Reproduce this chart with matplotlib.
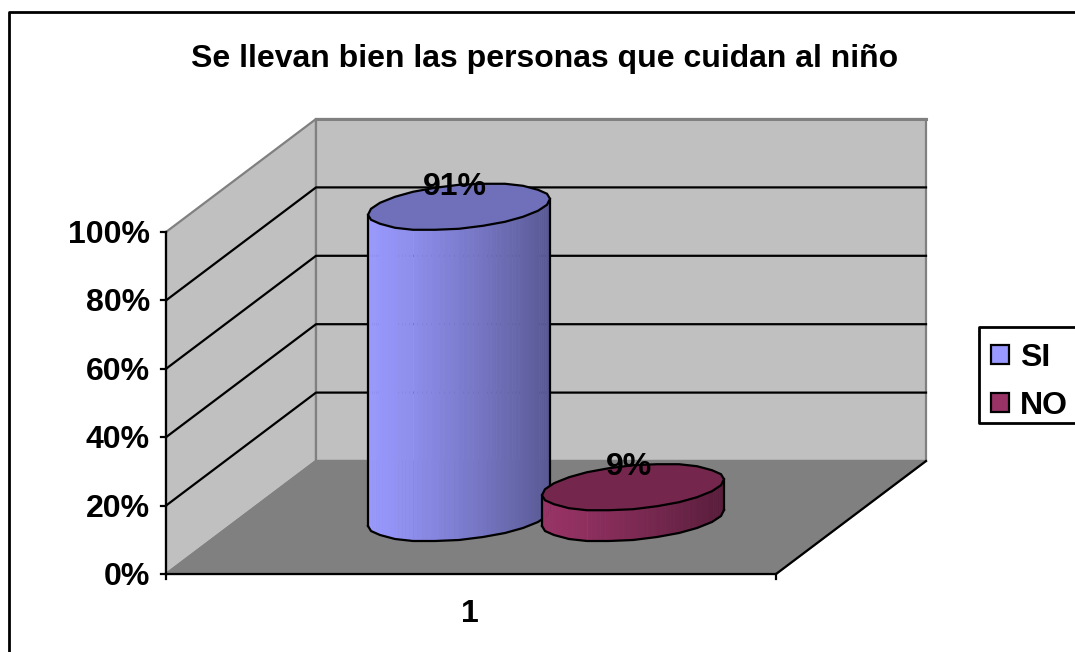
import numpy as np
import matplotlib
matplotlib.use("Agg")
import matplotlib.pyplot as plt
from matplotlib.patches import Polygon, Rectangle

plt.rcParams['font.family'] = ['Liberation Sans', 'DejaVu Sans']
plt.rcParams['font.weight'] = 'bold'

title = "Se llevan bien las personas que cuidan al niño"
series = ["SI", "NO"]
values = [91, 9]
value_labels = ["91%", "9%"]
category = "1"
y_ticks = [0, 20, 40, 60, 80, 100]

# pixel geometry of the 3d box
x0, x1 = 166, 776
y0, y_top = 574, 232
dx, dy = 150, -113
py = (y0 - y_top) / 100.0
FS = 23
LW = 1.6


def front(x_frac, val):
    return x0 + x_frac * (x1 - x0), y0 - val * py


def back(x_frac, val):
    x, y = front(x_frac, val)
    return x + dx, y + dy


def shade(col, f):
    return tuple(c * f for c in matplotlib.colors.to_rgb(col))


def cylinder(ax, cx, cy, val, side_col, top_col, z):
    a, c, b = 86, 30, 23
    t0 = np.arctan2(c, a)
    h = val * py
    # faceted like the original
    t = np.linspace(0, 2 * np.pi, 25)[:-1] + t0
    ex = np.round(cx + a * np.cos(t) + c * np.sin(t))
    ey = np.round(cy - b * np.sin(t))
    front_idx = list(range(12, 24)) + [0]
    n_strip = 5
    for i, j in zip(front_idx[:-1], front_idx[1:]):
        for k in range(n_strip):
            f0, f1 = k / n_strip, (k + 1) / n_strip
            xa = ex[i] + (ex[j] - ex[i]) * f0
            xb = ex[i] + (ex[j] - ex[i]) * f1
            ya = ey[i] + (ey[j] - ey[i]) * f0
            yb = ey[i] + (ey[j] - ey[i]) * f1
            pos = ((xa + xb) / 2 - (cx - 91)) / 182
            col = shade(side_col, 1 - 0.42 * pos ** 1.2)
            ax.add_patch(Polygon([(xa, ya - h), (xb, yb - h), (xb, yb), (xa, ya)],
                                 fc=col, ec=col, lw=0.4, zorder=z))
    ax.plot(ex[front_idx], ey[front_idx], color='black', lw=LW, zorder=z + 0.1)
    ax.plot([ex[0], ex[0]], [ey[0], ey[0] - h], color='black', lw=LW, zorder=z + 0.1)
    ax.plot([ex[12], ex[12]], [ey[12], ey[12] - h], color='black', lw=LW, zorder=z + 0.1)
    ax.add_patch(Polygon(np.c_[ex, ey - h], fc=top_col, ec='black', lw=LW, zorder=z + 0.2))


fig = plt.figure(figsize=(10.75, 6.52), dpi=100)
ax = fig.add_axes([0, 0, 1, 1])
ax.set_xlim(0, 1075)
ax.set_ylim(652, 0)
ax.axis('off')

# outer frame, cut off at the right and bottom of the picture
ax.plot([8.5, 8.5, 1075], [652, 11.5, 11.5], color='black', lw=2, clip_on=False)

# walls and floor
ax.add_patch(Polygon([front(0, 0), front(0, 100), back(0, 100), back(0, 0)], fc='#C0C0C0', ec='#808080', lw=LW))
ax.add_patch(Polygon([back(0, 0), back(0, 100), back(1, 100), back(1, 0)], fc='#C0C0C0', ec='#808080', lw=LW))
ax.add_patch(Polygon([front(0, 0), front(1, 0), back(1, 0), back(0, 0)], fc='#808080', ec='#808080', lw=LW))

for v in y_ticks[1:-1]:
    ax.plot([front(0, v)[0], back(0, v)[0], back(1, v)[0]],
            [front(0, v)[1], back(0, v)[1], back(1, v)[1]], color='black', lw=LW, zorder=2)
v = y_ticks[-1]
ax.plot([back(0, v)[0], back(1, v)[0]], [back(0, v)[1], back(1, v)[1]], color='#808080', lw=2.2, zorder=2)

# axes
ax.plot([x0, x0], [y0, y_top], color='black', lw=LW, zorder=3)
ax.plot([x0, x1, x1 + dx], [y0, y0, y0 + dy], color='black', lw=LW, zorder=3)
for v in y_ticks:
    _, yy = front(0, v)
    ax.plot([x0 - 5, x0], [yy, yy], color='black', lw=LW, zorder=3)
    ax.text(x0 - 16, yy + 3, f"{v}%", ha='right', va='center', fontsize=FS)
for xf in [0, 1]:
    ax.plot([front(xf, 0)[0]] * 2, [y0, y0 + 5], color='black', lw=LW, zorder=3)

# cylinders
side_cols = ['#9999FF', '#993366']
top_cols = ['#7070BA', '#75264D']
centers = [459, 633]
base_y = 518
for n, (cx, val, sc, tc) in enumerate(zip(centers, values, side_cols, top_cols)):
    cylinder(ax, cx, base_y, val, sc, tc, 4 + n)
for cx, val, lab in zip(centers, values, value_labels):
    ax.text(cx - 4, base_y - val * py - 20, lab, ha='center', va='center', fontsize=FS, zorder=7)

ax.text(470, 614, category, ha='center', va='center', fontsize=FS)
ax.text(544.5, 59, title, ha='center', va='center', fontsize=FS)

# legend
ax.plot([1075, 979, 979, 1075], [327, 327, 423, 423], color='black', lw=2, clip_on=False)
for name, col, yy in zip(series, side_cols, [354.5, 402.5]):
    ax.add_patch(Rectangle((991, yy - 9.5), 18, 19, fc=col, ec='black', lw=LW))
    ax.text(1020, yy + 3, name, ha='left', va='center', fontsize=FS)

fig.savefig("out.png", dpi=100)
